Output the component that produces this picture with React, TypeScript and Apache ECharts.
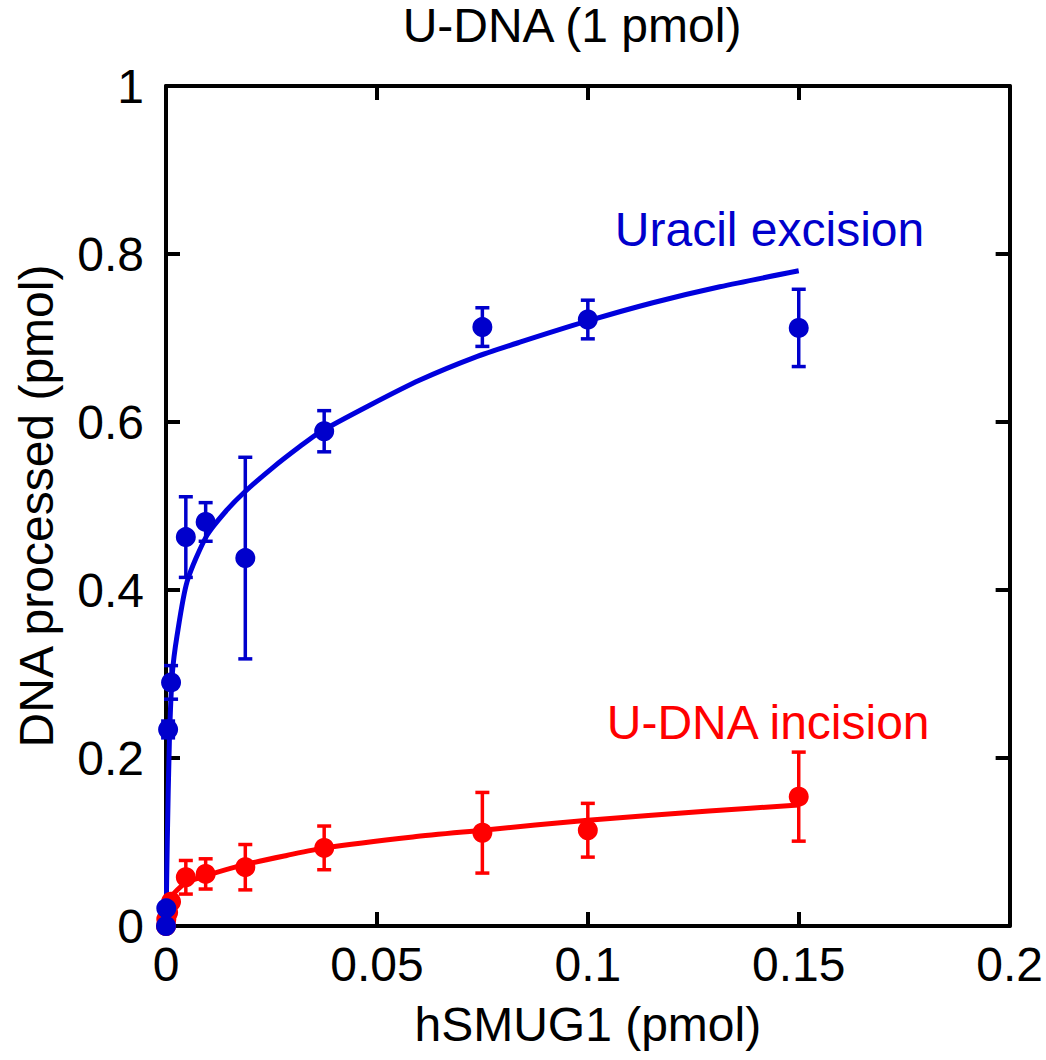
import React, { useEffect, useRef } from "react";
import * as echarts from "echarts";

const FONT = "'Liberation Sans', Arial, sans-serif";
const FS = 48;

const chartTitle = "U-DNA (1 pmol)";
const xTitle = "hSMUG1 (pmol)";
const yTitle = "DNA processed (pmol)";

const xTicks = [0, 0.05, 0.1, 0.15, 0.2];
const yTicks = [0, 0.2, 0.4, 0.6, 0.8, 1];

// hSMUG1 amounts (pmol)
const enzyme = [0, 0.00007, 0.0005, 0.0012, 0.0047, 0.0094, 0.0188, 0.0375, 0.075, 0.1, 0.15];

// Uracil excision
const excisionMean = [0, 0.021, 0.234, 0.29, 0.463, 0.481, 0.438, 0.589, 0.713, 0.722, 0.712];
const excisionErr = [0, 0, 0.01, 0.02, 0.048, 0.023, 0.12, 0.0245, 0.023, 0.023, 0.046];

// U-DNA incision
const incisionMean = [0, 0.008, 0.016, 0.029, 0.058, 0.062, 0.07, 0.093, 0.111, 0.114, 0.154];
const incisionErr = [0, 0, 0, 0.004, 0.02, 0.018, 0.027, 0.026, 0.048, 0.032, 0.053];

// fitted curves
const excisionFitX = [0, 0.0003, 0.0008, 0.0015, 0.0026, 0.005, 0.0097, 0.0144, 0.0187, 0.0254, 0.0318, 0.0365, 0.0483, 0.0602, 0.0732, 0.0839, 0.0998, 0.1154, 0.1313, 0.15];
const excisionFitY = [0, 0.1, 0.22, 0.3, 0.345, 0.41, 0.465, 0.495, 0.517, 0.546, 0.571, 0.588, 0.62, 0.65, 0.677, 0.695, 0.72, 0.742, 0.761, 0.78];
const incisionFitX = [0, 0.0011, 0.0046, 0.0096, 0.0186, 0.0286, 0.0376, 0.0585, 0.0751, 0.1, 0.1287, 0.15];
const incisionFitY = [0, 0.033, 0.051, 0.06, 0.073, 0.084, 0.093, 0.106, 0.114, 0.126, 0.137, 0.144];

// curve labels (data coordinates of the label's left edge)
const labels = [
  { text: "Uracil excision", x: 0.1064, y: 0.829, color: "#0000cc" },
  { text: "U-DNA incision", x: 0.1045, y: 0.242, color: "#ff0000" },
];

const BLUE = "#0000cc";
const RED = "#ff0000";

function errorSeries(color: string, data: number[][]) {
  return {
    type: "custom",
    z: 3,
    data,
    renderItem: (params: any, api: any) => {
      const x = api.value(0);
      const y = api.value(1);
      const e = api.value(2);
      if (!e) return { type: "group", children: [] };
      const top = api.coord([x, y + e]);
      const bot = api.coord([x, y - e]);
      const hw = 7;
      const style = { stroke: color, lineWidth: 3.5 };
      return {
        type: "group",
        children: [
          { type: "line", shape: { x1: top[0], y1: top[1], x2: bot[0], y2: bot[1] }, style },
          { type: "line", shape: { x1: top[0] - hw, y1: top[1], x2: top[0] + hw, y2: top[1] }, style },
          { type: "line", shape: { x1: bot[0] - hw, y1: bot[1], x2: bot[0] + hw, y2: bot[1] }, style },
        ],
      };
    },
  };
}

const fmt = (v: number) => String(+v.toFixed(3));

export default function App() {
  const ref = useRef<HTMLDivElement>(null);
  useEffect(() => {
    if (!ref.current) return;
    const chart = echarts.init(ref.current, null, { renderer: "svg" });
    const axisLine = { show: true, onZero: false, lineStyle: { color: "#000", width: 4 } };
    const axisTick = { show: true, inside: true, length: 14, lineStyle: { color: "#000", width: 4 } };
    const xBase = { type: "value", min: xTicks[0], max: xTicks[xTicks.length - 1], interval: xTicks[1] - xTicks[0], splitLine: { show: false }, axisLine, axisTick };
    const yBase = { type: "value", min: yTicks[0], max: yTicks[yTicks.length - 1], interval: yTicks[1] - yTicks[0], splitLine: { show: false }, axisLine, axisTick };
    chart.setOption({
      animation: false,
      backgroundColor: "#fff",
      textStyle: { fontFamily: FONT },
      grid: { left: 166, right: 36, top: 86, bottom: 134, containLabel: false },
      graphic: [
        {
          type: "text",
          x: 572,
          y: 25,
          style: { text: chartTitle, font: `${FS}px ${FONT}`, fill: "#000", textAlign: "center", textVerticalAlign: "middle" },
        },
      ],
      xAxis: [
        {
          ...xBase,
          position: "bottom",
          name: xTitle,
          nameLocation: "middle",
          nameGap: 74,
          nameTextStyle: { fontSize: FS, color: "#000", fontFamily: FONT },
          axisLabel: { fontSize: FS, color: "#000", margin: 14, fontFamily: FONT, formatter: fmt },
        },
        { ...xBase, position: "top", axisLabel: { show: false } },
      ],
      yAxis: [
        {
          ...yBase,
          position: "left",
          name: yTitle,
          nameLocation: "middle",
          nameGap: 106,
          nameTextStyle: { fontSize: FS, color: "#000", fontFamily: FONT },
          axisLabel: { fontSize: FS, color: "#000", margin: 22, fontFamily: FONT, formatter: fmt },
        },
        { ...yBase, position: "right", axisLabel: { show: false } },
      ],
      series: [
        {
          type: "line",
          data: excisionFitX.map((x, i) => [x, excisionFitY[i]]),
          showSymbol: false,
          smooth: 0.25,
          lineStyle: { color: "#0000dd", width: 5 },
          z: 2,
        },
        {
          type: "line",
          data: incisionFitX.map((x, i) => [x, incisionFitY[i]]),
          showSymbol: false,
          smooth: 0.25,
          lineStyle: { color: RED, width: 5 },
          z: 2,
        },
        errorSeries(RED, enzyme.map((x, i) => [x, incisionMean[i], incisionErr[i]])),
        errorSeries(BLUE, enzyme.map((x, i) => [x, excisionMean[i], excisionErr[i]])),
        {
          type: "scatter",
          data: enzyme.map((x, i) => [x, incisionMean[i]]),
          symbol: "circle",
          symbolSize: 20,
          itemStyle: { color: RED, opacity: 1 },
          z: 4,
        },
        {
          type: "scatter",
          data: enzyme.map((x, i) => [x, excisionMean[i]]),
          symbol: "circle",
          symbolSize: 20,
          itemStyle: { color: BLUE, opacity: 1 },
          z: 5,
        },
        {
          type: "scatter",
          data: labels.map((l) => ({ value: [l.x, l.y], name: l.text, label: { color: l.color } })),
          symbolSize: 0,
          silent: true,
          itemStyle: { opacity: 1 },
          z: 6,
          label: {
            show: true,
            position: "right",
            distance: 0,
            align: "left",
            verticalAlign: "middle",
            fontSize: FS,
            fontFamily: FONT,
            formatter: (p: any) => p.name,
          },
        },
      ],
    });
    return () => chart.dispose();
  }, []);
  return <div ref={ref} style={{ position: "absolute", left: 0, top: 0, width: 1046, height: 1060 }} />;
}
